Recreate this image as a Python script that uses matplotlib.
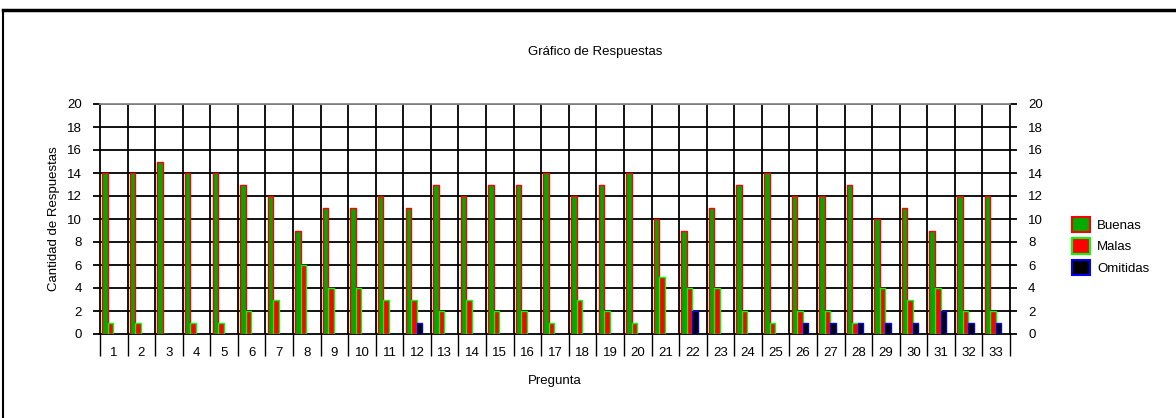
import matplotlib
matplotlib.use("Agg")
import matplotlib.pyplot as plt
from matplotlib.patches import Patch
from matplotlib.lines import Line2D
import numpy as np

plt.rcParams["font.family"] = ["Liberation Sans", "DejaVu Sans"]
plt.rcParams["font.size"] = 9.5

# data
preguntas = list(range(1, 34))
buenas = [14, 14, 15, 14, 14, 13, 12, 9, 11, 11, 12, 11, 13, 12, 13, 13, 14,
          12, 13, 14, 10, 9, 11, 13, 14, 12, 12, 13, 10, 11, 9, 12, 12]
malas = [1, 1, 0, 1, 1, 2, 3, 6, 4, 4, 3, 3, 2, 3, 2, 2, 1,
         3, 2, 1, 5, 4, 4, 2, 1, 2, 2, 1, 4, 3, 4, 2, 2]
omitidas = [0, 0, 0, 0, 0, 0, 0, 0, 0, 0, 0, 1, 0, 0, 0, 0, 0,
            0, 0, 0, 0, 2, 0, 0, 0, 1, 1, 1, 1, 1, 2, 1, 1]
series_labels = ["Buenas", "Malas", "Omitidas"]

# fill / edge colours per series
fills = ["#00aa00", "#ff0000", "#000000"]
edges = ["#ff0000", "#00ff00", "#0000ff"]

fig = plt.figure(figsize=(11.76, 4.18), dpi=100)
ax = fig.add_axes([100 / 1176, 1 - 334 / 418, 910 / 1176, 230 / 418])

x = np.array(preguntas, dtype=float)
width = 0.2
offset = 0.08  # gap from slot start to first bar

for k, (vals, fc, ec) in enumerate(zip([buenas, malas, omitidas], fills, edges)):
    ax.bar(x - 0.5 + offset + k * width, vals, width=width, align="edge",
           color=fc, edgecolor=ec, linewidth=1.0, zorder=3)

ax.set_xlim(0.5, len(preguntas) + 0.5)
ax.set_ylim(0, 20)

# grid: horizontal every 2, vertical at slot boundaries
bounds = np.arange(0.5, len(preguntas) + 1.0, 1.0)
for yv in range(2, 21, 2):
    ax.axhline(yv, color="black", linewidth=1.3, zorder=1)
for xv in bounds[1:-1]:
    ax.axvline(xv, color="black", linewidth=1.3, zorder=1)

ax.set_yticks(range(0, 21, 2))
ax.tick_params(axis="y", which="major", left=True, right=True,
               labelleft=True, labelright=True, direction="out",
               length=5, width=1.3, pad=8, labelsize=9.5, colors="black")

# long ticks at slot boundaries, labels centred in each slot
ax.set_xticks(bounds)
ax.set_xticklabels([])
ax.set_xticks(x, minor=True)
ax.set_xticklabels([str(p) for p in preguntas], minor=True)
ax.tick_params(axis="x", which="major", direction="out", length=16, width=1.0)
ax.tick_params(axis="x", which="minor", length=0, pad=9, labelsize=9.5)

for side in ["left", "right", "bottom"]:
    ax.spines[side].set_linewidth(1.3)
    ax.spines[side].set_color("black")
ax.spines["top"].set_color("#888888")
ax.spines["top"].set_linewidth(1.3)

ax.set_xlabel("Pregunta", labelpad=10)
ax.set_ylabel("Cantidad de Respuestas", labelpad=5)

fig.text(595 / 1176, 1 - 52 / 418, "Gráfico de Respuestas",
         ha="center", va="center", fontsize=9.5)

# legend on the right
handles = [Patch(facecolor=fc, edgecolor=ec, linewidth=1.5)
           for fc, ec in zip(fills, edges)]
fig.legend(handles, series_labels, loc="center left",
           bbox_to_anchor=(1060 / 1176, 1 - 246 / 418), frameon=False,
           handlelength=1.4, handleheight=1.4, labelspacing=0.5,
           handletextpad=0.5, fontsize=9.5)

# outer frame (top and left edges visible)
fig.add_artist(Line2D([3 / 1176, 1.0], [1 - 10 / 418, 1 - 10 / 418],
                      transform=fig.transFigure, color="black", linewidth=2.5))
fig.add_artist(Line2D([3 / 1176, 3 / 1176], [0, 1 - 10 / 418],
                      transform=fig.transFigure, color="black", linewidth=1.5))

fig.savefig("out.png", dpi=100)
